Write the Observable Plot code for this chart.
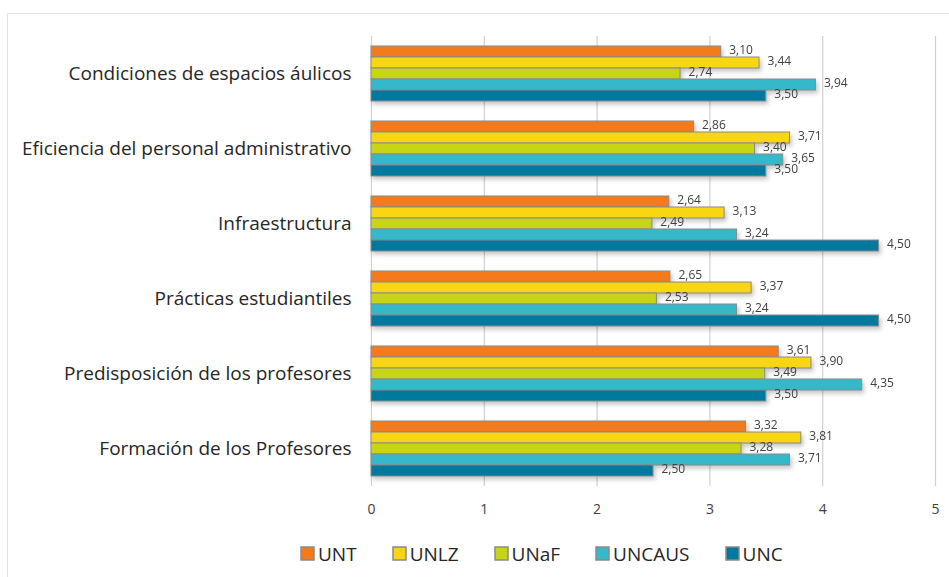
<!DOCTYPE html>
<html><head><meta charset="utf-8">
<script src="https://cdn.jsdelivr.net/npm/d3@7"></script>
<script src="https://cdn.jsdelivr.net/npm/@observablehq/plot@0.6"></script>
<style>
body{margin:0;background:#fff;font-family:"Open Sans",sans-serif;}
#frame{position:absolute;left:7px;top:13px;width:980px;height:620px;border:1.5px solid #e4e4e4;box-sizing:border-box;}
#chart{position:absolute;left:0;top:0;}
#legend{position:absolute;top:537px;left:301px;}
.lg-swatch{margin-right:36px !important;}
.lg-swatch svg{margin-right:4px !important;}
.lg-swatch svg rect{stroke:#8a8a8a;stroke-width:1.5px;}
</style>
</head><body>
<div id="frame"></div>
<div id="chart"></div>
<div id="legend"></div>
<script>
const categories = [
  "Condiciones de espacios áulicos",
  "Eficiencia del personal administrativo",
  "Infraestructura",
  "Prácticas estudiantiles",
  "Predisposición de los profesores",
  "Formación de los Profesores"
];
const series = ["UNT", "UNLZ", "UNaF", "UNCAUS", "UNC"];
const colors = ["#f47b1c", "#f9d613", "#c8d416", "#35b8c9", "#00799f"];
const UNT    = [3.10, 2.86, 2.64, 2.65, 3.61, 3.32];
const UNLZ   = [3.44, 3.71, 3.13, 3.37, 3.90, 3.81];
const UNaF   = [2.74, 3.40, 2.49, 2.53, 3.49, 3.28];
const UNCAUS = [3.94, 3.65, 3.24, 3.24, 4.35, 3.71];
const UNC    = [3.50, 3.50, 4.50, 4.50, 3.50, 2.50];
const xTicks = [0, 1, 2, 3, 4, 5];

const valuesBySeries = {UNT, UNLZ, UNaF, UNCAUS, UNC};
const data = [];
categories.forEach((c, i) => series.forEach(s => data.push({category: c, series: s, value: valuesBySeries[s][i]})));
const fmt = v => v.toFixed(2).replace(".", ",");

const chart = Plot.plot({
  width: 949,
  height: 530,
  marginLeft: 371,
  marginRight: 14,
  marginTop: 34,
  marginBottom: 43,
  style: {fontFamily: "'Open Sans', sans-serif", background: "transparent", color: "#404040"},
  x: {domain: [0, 5], ticks: xTicks, grid: false, label: null, axis: null},
  fy: {domain: categories, padding: 0, label: null, axis: null},
  y: {domain: series, paddingInner: 0, paddingOuter: 0.87, axis: null},
  color: {domain: series, range: colors},
  marks: [
    Plot.gridX(xTicks, {stroke: "#d0d0d0", strokeOpacity: 1, strokeWidth: 1.2}),
    Plot.barX(data, {x: "value", y: "series", fy: "category", fill: "series", stroke: "#8a8a8a", strokeWidth: 1}),
    Plot.text(data, {x: "value", y: "series", fy: "category", text: d => fmt(d.value), textAnchor: "start", dx: 8, dy: -1.5, fontSize: 12, fill: "#404040"}),
    Plot.axisFy({anchor: "left", tickSize: 0, tickPadding: 20, fontSize: 19, fill: "#262626", label: null}),
    Plot.axisX(xTicks, {tickSize: 0, tickPadding: 18, fontSize: 14, fill: "#404040", label: null, facetAnchor: "bottom"})
  ]
});
document.getElementById("chart").appendChild(chart);
chart.querySelectorAll("g[aria-label='bar']").forEach(g => g.style.filter = "drop-shadow(2px 3px 2px rgba(0,0,0,0.22))");

const legend = Plot.legend({
  color: {domain: series, range: colors},
  legend: "swatches",
  swatchSize: 13,
  className: "lg",
  style: {fontSize: "19px", fontFamily: "'Open Sans', sans-serif", color: "#262626"}
});
document.getElementById("legend").appendChild(legend);
</script>
</body></html>
